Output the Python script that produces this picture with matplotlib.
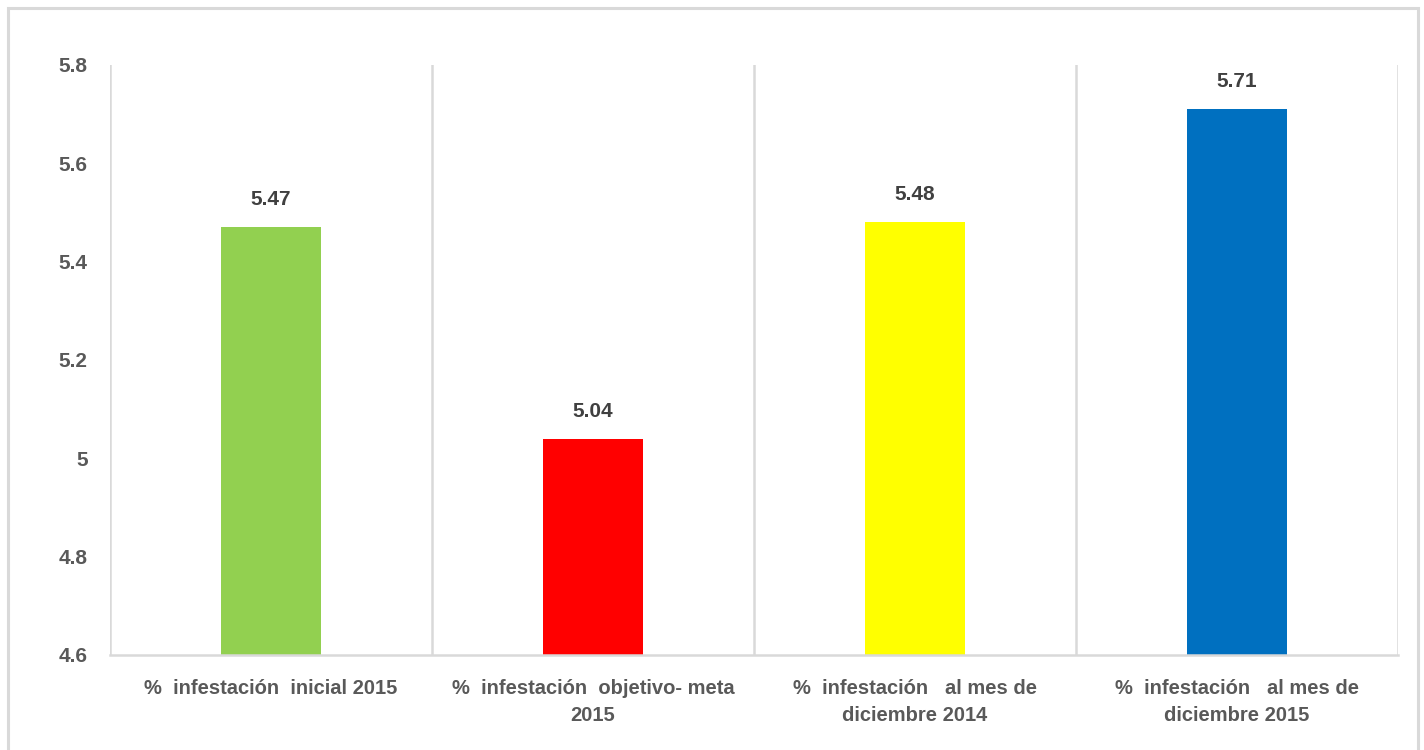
import matplotlib
matplotlib.use("Agg")
import matplotlib.pyplot as plt
from matplotlib.patches import Rectangle

categories = [
    "%  infestación  inicial 2015",
    "%  infestación  objetivo- meta\n2015",
    "%  infestación   al mes de\ndiciembre 2014",
    "%  infestación   al mes de\ndiciembre 2015",
]
values = [5.47, 5.04, 5.48, 5.71]
colors = ["#92D050", "#FF0000", "#FFFF00", "#0070C0"]
yticks = [4.6, 4.8, 5.0, 5.2, 5.4, 5.6, 5.8]
ytick_labels = ["4.6", "4.8", "5", "5.2", "5.4", "5.6", "5.8"]

plt.rcParams["font.family"] = ["Liberation Sans", "DejaVu Sans"]

fig = plt.figure(figsize=(14.24, 7.5), dpi=100)
ax = fig.add_axes([110 / 1424, 1 - 655 / 750, 1288 / 1424, 590 / 750])

x = list(range(len(values)))
ax.bar(x, values, width=0.31, color=colors, zorder=2)

for xi, v in zip(x, values):
    ax.annotate(f"{v:.2f}", (xi, v), xytext=(0, 13), textcoords="offset points",
                ha="center", va="bottom", fontsize=15, fontweight="bold",
                color="#404040")

ax.set_xlim(-0.5, len(values) - 0.5)
ax.set_ylim(4.6, 5.8)
ax.set_yticks(yticks)
ax.set_yticklabels(ytick_labels)
ax.set_xticks(x)
ax.set_xticklabels(categories, linespacing=1.55)

for b in [i - 0.5 for i in range(len(values) + 1)]:
    ax.axvline(b, color="#D9D9D9", lw=1.8, zorder=1)

for s in ["top", "right", "left"]:
    ax.spines[s].set_visible(False)
ax.spines["bottom"].set_color("#D9D9D9")
ax.spines["bottom"].set_linewidth(1.8)

ax.tick_params(axis="y", length=0, pad=16, labelsize=15, labelcolor="#595959")
ax.tick_params(axis="x", length=0, pad=17, labelsize=14.5, labelcolor="#595959")
for lbl in ax.get_xticklabels() + ax.get_yticklabels():
    lbl.set_fontweight("bold")

# outer chart border
fig.patches.append(Rectangle((8 / 1424, -0.02), 1410 / 1424, 1 - 8 / 750 + 0.02,
                             transform=fig.transFigure, fill=False,
                             edgecolor="#D9D9D9", lw=2.2))

fig.savefig("out.png", dpi=100, facecolor="white")
